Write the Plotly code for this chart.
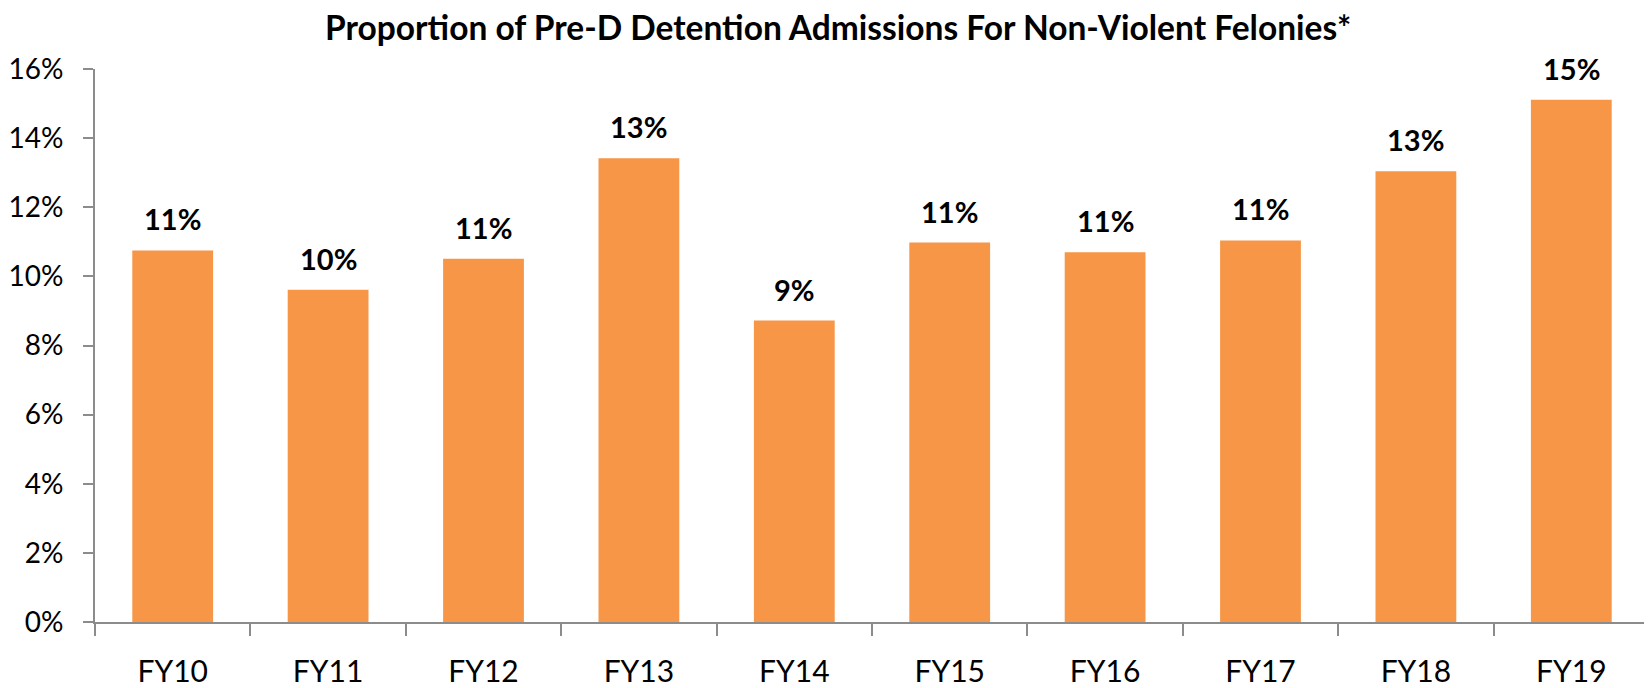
import plotly.graph_objects as go

categories = ["FY10", "FY11", "FY12", "FY13", "FY14", "FY15", "FY16", "FY17", "FY18", "FY19"]
values = [0.1075, 0.0961, 0.1051, 0.1342, 0.0872, 0.1098, 0.1070, 0.1104, 0.1304, 0.1511]
y_ticks = [0, 0.02, 0.04, 0.06, 0.08, 0.10, 0.12, 0.14, 0.16]
title_text = "Proportion of Pre-D Detention Admissions For Non-Violent Felonies*"

FONT = "Lato"
fig = go.Figure()
fig.add_trace(go.Bar(x=categories, y=values, marker=dict(color="#F79646", line=dict(width=0)),
                     hoverinfo="skip"))
for c, v in zip(categories, values):
    fig.add_annotation(x=c, y=v, text="<b>%d%%</b>" % round(v * 100), showarrow=False,
                       yanchor="bottom", yshift=12, font=dict(family=FONT, size=29, color="#000"))

# page has an 8px body margin; figure is sized to fill the remaining window
fig.update_layout(
    width=1644, height=680,
    paper_bgcolor="white", plot_bgcolor="white",
    margin=dict(l=87, r=3, t=61, b=66, autoexpand=False),
    bargap=0.48,
    showlegend=False,
    title=dict(text="<b>" + title_text + "</b>", x=0.505, xanchor="center", y=0.97, yanchor="middle",
               font=dict(family=FONT, size=33.5, color="#000")),
    xaxis=dict(type="category", range=[-0.5, 9.5], showline=True, linecolor="#8c8c8c", linewidth=2,
               ticks="outside", ticklen=12, tickcolor="#8c8c8c", tickwidth=2, tickson="boundaries",
               showgrid=False, ticklabelstandoff=22,
               tickfont=dict(family=FONT, size=30, color="#000")),
    yaxis=dict(range=[0, 0.16], tickvals=y_ticks, tickformat=".0%", showline=True, linecolor="#8c8c8c",
               linewidth=2, ticks="outside", ticklen=10, tickcolor="#8c8c8c", tickwidth=2,
               showgrid=False, zeroline=False, ticklabelstandoff=14,
               tickfont=dict(family=FONT, size=28, color="#000")),
)
fig.write_html("out.html")
